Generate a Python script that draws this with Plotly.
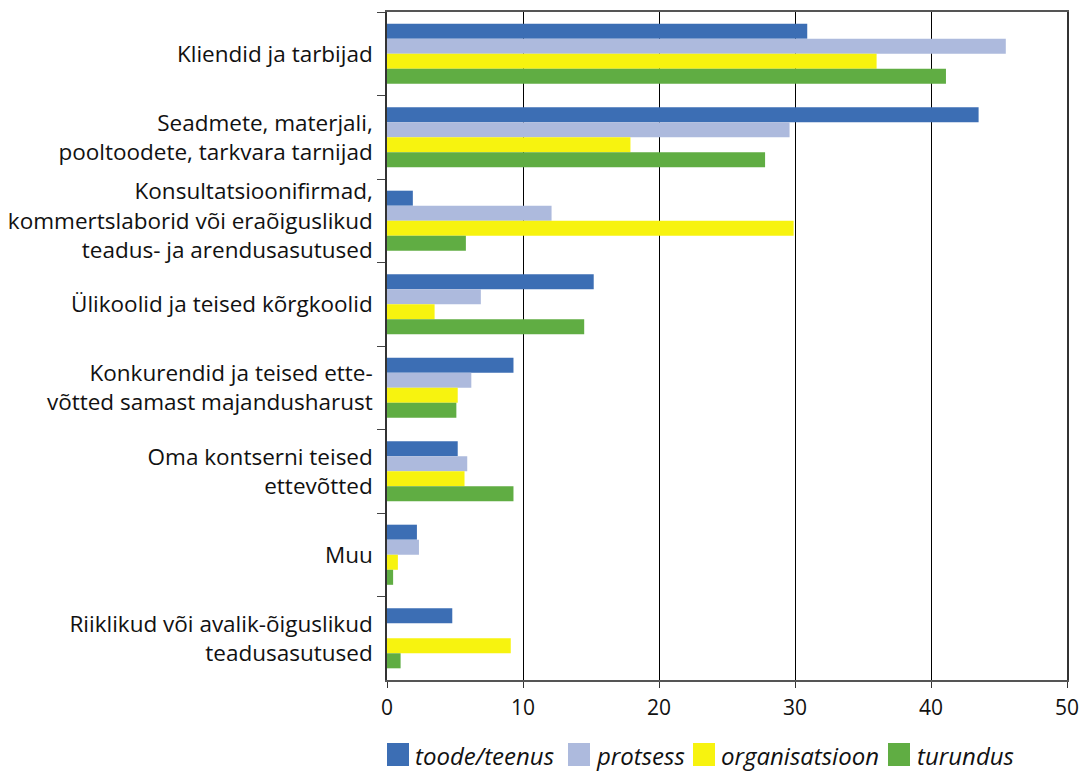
import plotly.graph_objects as go

# Innovation partners by innovation type
categories = [
    "Kliendid ja tarbijad",
    "Seadmete, materjali,<br>pooltoodete, tarkvara tarnijad",
    "Konsultatsioonifirmad,<br>kommertslaborid või eraõiguslikud<br>teadus- ja arendusasutused",
    "Ülikoolid ja teised kõrgkoolid",
    "Konkurendid ja teised ette-<br>võtted samast majandusharust",
    "Oma kontserni teised<br>ettevõtted",
    "Muu",
    "Riiklikud või avalik-õiguslikud<br>teadusasutused",
]

toode_teenus = [30.9, 43.5, 1.9, 15.2, 9.3, 5.2, 2.2, 4.8]
protsess = [45.5, 29.6, 12.1, 6.9, 6.2, 5.9, 2.35, 0]
organisatsioon = [36.0, 17.9, 29.9, 3.5, 5.2, 5.7, 0.8, 9.1]
turundus = [41.1, 27.8, 5.8, 14.5, 5.1, 9.3, 0.45, 1.0]

series = [
    ("toode/teenus", toode_teenus, "#3c6eb4"),
    ("protsess", protsess, "#adbadd"),
    ("organisatsioon", organisatsioon, "#f7f30f"),
    ("turundus", turundus, "#60ad43"),
]

font_family = "Open Sans, Noto Sans, sans-serif"

W, H = 1082, 771
L, R, T, B = 387, 15, 12, 91
pw, ph = W - L - R, H - T - B

fig = go.Figure()
for name, vals, color in series:
    fig.add_trace(go.Bar(
        y=categories, x=vals, name=name, orientation="h",
        marker=dict(color=color, line=dict(width=0)),
        showlegend=False,
    ))

# legend drawn by hand, with big square swatches like the original
swatch_x = [387, 568, 693, 888]   # left edge of each swatch, px
text_x = [415, 596, 721, 917]
for (name, vals, color), sx, tx in zip(series, swatch_x, text_x):
    fig.add_shape(type="rect", xref="paper", yref="paper",
                  x0=(sx - L) / pw, x1=(sx + 22 - L) / pw,
                  y0=(T + ph - 766) / ph, y1=(T + ph - 743) / ph,
                  fillcolor=color, line=dict(width=0))
    fig.add_annotation(xref="paper", yref="paper", x=(tx - 2 - L) / pw,
                       y=(T + ph - 756) / ph, xanchor="left", yanchor="middle",
                       text=name, showarrow=False,
                       font=dict(size=24, style="italic", color="#111111"))

fig.update_layout(
    width=W, height=H,
    margin=dict(l=L, r=R, t=T, b=B, autoexpand=False),
    paper_bgcolor="white", plot_bgcolor="white",
    barmode="group", bargap=0.28, bargroupgap=0,
    font=dict(family=font_family, color="#111111", size=22),
    showlegend=False,
)

fig.update_xaxes(
    range=[0, 50], dtick=10, tick0=0,
    showgrid=True, gridcolor="#000000", gridwidth=1.2,
    showline=True, linecolor="#555555", linewidth=2, mirror=True,
    ticks="outside", ticklen=6, tickcolor="#333333",
    tickfont=dict(size=21), ticklabelstandoff=2,
    zeroline=False, automargin=False,
)
fig.update_yaxes(
    autorange="reversed",
    showline=True, linecolor="#333333", linewidth=1.5, mirror=True,
    ticks="outside", ticklen=8, tickcolor="#444444", tickson="boundaries",
    tickfont=dict(size=22.5), ticklabelstandoff=8,
    showgrid=False, automargin=False,
)

fig.write_html("out.html", config={"displayModeBar": False},
               post_script="document.body.style.margin='0';")
